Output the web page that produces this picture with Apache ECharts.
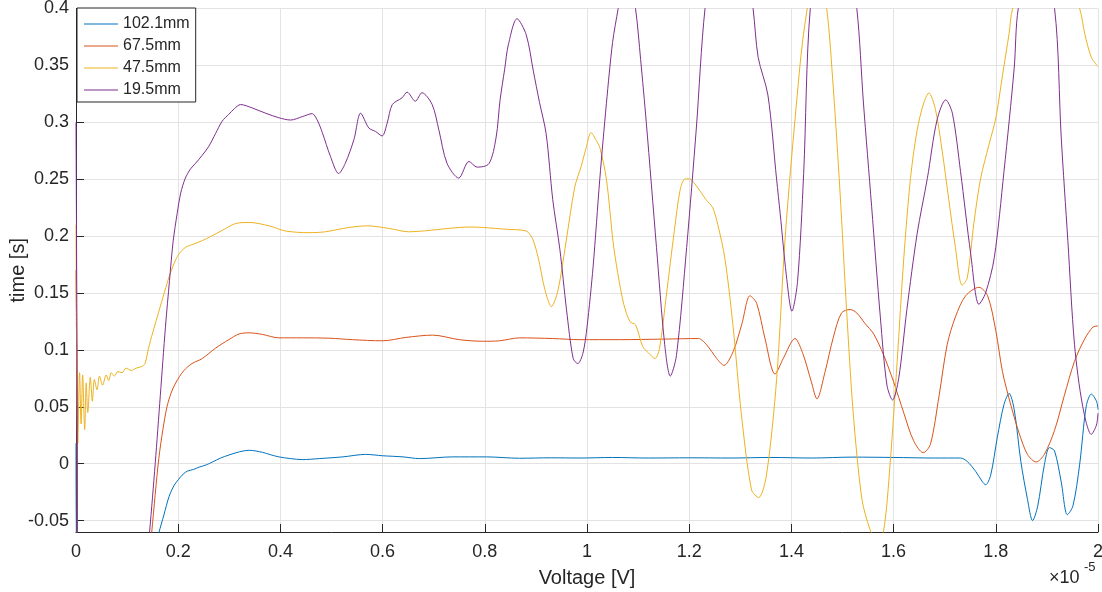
<!DOCTYPE html>
<html>
<head>
<meta charset="utf-8">
<script src="https://cdn.jsdelivr.net/npm/echarts@6/dist/echarts.min.js"></script>
<style>html,body{margin:0;padding:0;background:#fff}#c{width:1102px;height:592px}</style>
</head>
<body>
<div id="c"></div>
<script>
const seriesNames = ['102.1mm', '67.5mm', '47.5mm', '19.5mm'];
const seriesColors = ['#0072BD', '#D95319', '#EDB120', '#7E2F8E'];
const yTickValues = [-0.05, 0, 0.05, 0.1, 0.15, 0.2, 0.25, 0.3, 0.35, 0.4];

const s102 = [[0,0.018],[0.003,-0.1],[0.14,-0.1],[0.162,-0.061],[0.172,-0.045],[0.182,-0.029],[0.192,-0.019],[0.201,-0.0136],[0.21,-0.009],[0.218,-0.0065],[0.23,-0.005],[0.241,-0.003],[0.255,-0.001],[0.267,0.0015],[0.283,0.005],[0.299,0.0076],[0.32,0.0105],[0.339,0.0118],[0.365,0.01],[0.38,0.008],[0.397,0.006],[0.42,0.0045],[0.443,0.0036],[0.476,0.0045],[0.522,0.006],[0.567,0.0082],[0.6,0.007],[0.64,0.006],[0.672,0.0045],[0.737,0.006],[0.803,0.006],[0.868,0.0048],[0.93,0.0052],[0.986,0.005],[1.05,0.0055],[1.12,0.005],[1.2,0.0052],[1.28,0.005],[1.36,0.0055],[1.44,0.005],[1.52,0.0058],[1.6,0.0055],[1.68,0.005],[1.731,0.005],[1.744,0.002],[1.761,-0.007],[1.774,-0.016],[1.78,-0.0185],[1.79,-0.01],[1.803,0.0233],[1.816,0.052],[1.826,0.0618],[1.836,0.0476],[1.849,0.002],[1.862,-0.0312],[1.872,-0.05],[1.882,-0.0373],[1.895,-0.001],[1.905,0.0142],[1.915,0.0112],[1.928,-0.016],[1.94,-0.0448],[1.951,-0.037],[1.964,-0.001],[1.977,0.0506],[1.987,0.0612],[1.997,0.055],[2.0,0.0476]];

const s67 = [[0,0.17],[0.002,0.05],[0.004,-0.12],[0.135,-0.12],[0.148,-0.061],[0.155,-0.027],[0.162,0.0045],[0.17,0.03],[0.178,0.05],[0.186,0.062],[0.195,0.071],[0.211,0.0818],[0.227,0.088],[0.247,0.0924],[0.273,0.1015],[0.299,0.109],[0.319,0.114],[0.339,0.115],[0.365,0.1136],[0.397,0.1106],[0.443,0.1106],[0.495,0.1103],[0.541,0.109],[0.6,0.108],[0.646,0.111],[0.698,0.113],[0.75,0.109],[0.796,0.1076],[0.829,0.108],[0.868,0.1106],[0.933,0.11],[0.986,0.109],[1.064,0.109],[1.15,0.1095],[1.218,0.11],[1.234,0.1045],[1.254,0.0924],[1.268,0.0864],[1.286,0.0985],[1.303,0.1227],[1.319,0.1476],[1.332,0.141],[1.348,0.1106],[1.368,0.0788],[1.384,0.0924],[1.407,0.11],[1.423,0.096],[1.439,0.072],[1.45,0.057],[1.466,0.081],[1.482,0.111],[1.498,0.1324],[1.515,0.1355],[1.528,0.1324],[1.544,0.1233],[1.561,0.114],[1.58,0.096],[1.6,0.072],[1.62,0.0445],[1.639,0.0203],[1.658,0.0097],[1.672,0.017],[1.689,0.0597],[1.705,0.105],[1.721,0.129],[1.741,0.1476],[1.767,0.155],[1.784,0.1476],[1.8,0.117],[1.813,0.081],[1.83,0.0506],[1.846,0.0264],[1.862,0.0082],[1.879,0.0015],[1.895,0.0082],[1.915,0.0294],[1.934,0.0597],[1.954,0.09],[1.974,0.1097],[1.99,0.12],[2.0,0.121]];

const s47 = [[0,0.21],[0.0015,0.1],[0.0035,0.018],[0.007,0.08],[0.01,0.035],[0.013,0.078],[0.017,0.03],[0.02,0.071],[0.023,0.045],[0.028,0.076],[0.032,0.055],[0.036,0.074],[0.041,0.065],[0.046,0.077],[0.052,0.069],[0.059,0.078],[0.064,0.073],[0.069,0.08],[0.075,0.077],[0.082,0.081],[0.09,0.08],[0.098,0.084],[0.108,0.082],[0.118,0.084],[0.129,0.0855],[0.135,0.088],[0.142,0.1015],[0.15,0.115],[0.159,0.129],[0.17,0.146],[0.182,0.164],[0.192,0.176],[0.201,0.184],[0.214,0.19],[0.23,0.193],[0.247,0.196],[0.265,0.2],[0.286,0.205],[0.312,0.211],[0.339,0.212],[0.378,0.209],[0.41,0.2045],[0.456,0.203],[0.488,0.2038],[0.534,0.2076],[0.57,0.209],[0.612,0.2068],[0.651,0.2038],[0.684,0.2047],[0.73,0.2068],[0.769,0.208],[0.796,0.2076],[0.842,0.206],[0.881,0.2045],[0.894,0.197],[0.905,0.18],[0.914,0.16],[0.922,0.146],[0.93,0.138],[0.943,0.152],[0.959,0.195],[0.976,0.243],[0.989,0.262],[0.998,0.277],[1.008,0.291],[1.018,0.284],[1.025,0.278],[1.038,0.25],[1.051,0.195],[1.06,0.168],[1.072,0.14],[1.084,0.125],[1.095,0.122],[1.109,0.103],[1.12,0.0975],[1.133,0.0924],[1.142,0.1015],[1.155,0.147],[1.171,0.205],[1.182,0.24],[1.191,0.25],[1.2,0.2503],[1.214,0.244],[1.233,0.232],[1.246,0.225],[1.256,0.21],[1.27,0.18],[1.286,0.12],[1.302,0.044],[1.322,-0.023],[1.336,-0.0297],[1.351,-0.0106],[1.371,0.074],[1.388,0.2],[1.41,0.317],[1.426,0.385],[1.451,0.44],[1.469,0.4],[1.482,0.33],[1.495,0.24],[1.508,0.135],[1.521,0.0445],[1.538,-0.031],[1.554,-0.058],[1.567,-0.068],[1.58,-0.06],[1.593,-0.001],[1.607,0.09],[1.62,0.181],[1.633,0.2506],[1.646,0.293],[1.659,0.317],[1.669,0.3258],[1.682,0.311],[1.695,0.275],[1.708,0.232],[1.721,0.19],[1.734,0.157],[1.744,0.163],[1.757,0.211],[1.77,0.25],[1.787,0.281],[1.8,0.3036],[1.813,0.341],[1.826,0.378],[1.833,0.4],[1.895,0.48],[1.964,0.4],[1.974,0.378],[1.987,0.357],[2.0,0.349]];

const s19 = [[0,0.3],[0.002,0.1],[0.004,-0.13],[0.13,-0.13],[0.144,-0.06],[0.155,0.0],[0.165,0.06],[0.175,0.12],[0.183,0.161],[0.19,0.195],[0.198,0.22],[0.205,0.238],[0.214,0.251],[0.224,0.259],[0.234,0.264],[0.247,0.271],[0.26,0.279],[0.273,0.29],[0.286,0.301],[0.299,0.307],[0.31,0.312],[0.322,0.3156],[0.345,0.3126],[0.371,0.308],[0.397,0.304],[0.42,0.302],[0.443,0.305],[0.462,0.3076],[0.472,0.302],[0.482,0.291],[0.498,0.27],[0.514,0.255],[0.527,0.264],[0.544,0.285],[0.557,0.308],[0.573,0.295],[0.586,0.292],[0.599,0.288],[0.609,0.2994],[0.619,0.3156],[0.638,0.3215],[0.648,0.3265],[0.664,0.3185],[0.677,0.326],[0.697,0.3156],[0.71,0.2935],[0.726,0.264],[0.749,0.251],[0.769,0.2656],[0.785,0.2606],[0.808,0.2636],[0.822,0.2864],[0.83,0.32],[0.839,0.347],[0.846,0.368],[0.863,0.391],[0.881,0.377],[0.895,0.345],[0.907,0.3176],[0.92,0.29],[0.933,0.232],[0.947,0.188],[0.96,0.135],[0.973,0.0924],[0.982,0.088],[0.992,0.097],[1.0,0.12],[1.012,0.1735],[1.025,0.25],[1.038,0.3167],[1.05,0.37],[1.061,0.4],[1.078,0.445],[1.095,0.4],[1.105,0.355],[1.116,0.3],[1.136,0.19],[1.152,0.105],[1.163,0.077],[1.175,0.095],[1.195,0.19],[1.214,0.295],[1.231,0.4],[1.278,0.56],[1.325,0.4],[1.335,0.357],[1.354,0.324],[1.371,0.25],[1.378,0.22],[1.39,0.166],[1.401,0.134],[1.412,0.16],[1.424,0.255],[1.437,0.4],[1.482,0.56],[1.528,0.4],[1.541,0.317],[1.557,0.226],[1.574,0.129],[1.587,0.069],[1.598,0.056],[1.61,0.075],[1.626,0.1355],[1.646,0.202],[1.666,0.2506],[1.685,0.302],[1.702,0.3197],[1.715,0.308],[1.731,0.2567],[1.751,0.184],[1.767,0.14],[1.78,0.15],[1.797,0.181],[1.816,0.2567],[1.836,0.3476],[1.844,0.4],[1.88,0.47],[1.915,0.4],[1.928,0.287],[1.941,0.196],[1.954,0.105],[1.97,0.0506],[1.987,0.0258],[1.997,0.034],[2.0,0.0445]];

const seriesData = [s102, s67, s47, s19];
const FONT = "'Liberation Sans', Arial, Helvetica, sans-serif";
const TXT = '#262626';

const chart = echarts.init(document.getElementById('c'), null, {renderer: 'canvas'});
chart.setOption({
  animation: false,
  backgroundColor: '#ffffff',
  textStyle: {fontFamily: FONT},
  grid: {left: 76, right: 4, top: 8.5, bottom: 60, containLabel: false, outerBoundsMode: 'none'},
  legend: {
    orient: 'vertical', left: 77, top: 8,
    data: seriesNames,
    icon: 'rect',
    backgroundColor: '#ffffff', borderColor: TXT, borderWidth: 1,
    padding: [8, 6, 4, 7], itemGap: 6, itemWidth: 34, itemHeight: 1.2,
    textStyle: {fontSize: 16, color: TXT, fontFamily: FONT, lineHeight: 16}
  },
  xAxis: {
    type: 'value', min: 0, max: 2, interval: 0.2,
    name: 'Voltage [V]', nameLocation: 'middle', nameGap: 36, nameMoveOverlap: false,
    nameTextStyle: {fontSize: 20, color: TXT, fontFamily: FONT},
    axisLine: {show: true, onZero: false, lineStyle: {color: TXT, width: 1}},
    axisTick: {show: true, inside: true, length: 8, lineStyle: {color: TXT}},
    axisLabel: {fontSize: 18, color: TXT, margin: 11, fontFamily: FONT,
      formatter: v => String(+v.toFixed(1))},
    splitLine: {show: true, lineStyle: {color: '#e3e3e3', width: 1}}
  },
  yAxis: {
    type: 'value', min: -0.06, max: 0.4,
    name: 'time [s]', nameLocation: 'middle', nameGap: 48, nameRotate: 90, nameMoveOverlap: false,
    nameTextStyle: {fontSize: 20, color: TXT, fontFamily: FONT},
    axisLine: {show: true, onZero: false, lineStyle: {color: TXT, width: 1}},
    axisTick: {show: true, inside: true, length: 8, lineStyle: {color: TXT}, customValues: yTickValues},
    axisLabel: {fontSize: 18, color: TXT, margin: 7, fontFamily: FONT, customValues: yTickValues,
      formatter: v => String(+v.toFixed(2))},
    splitLine: {show: true, lineStyle: {color: '#e3e3e3', width: 1}}
  },
  graphic: [
    {type: 'text', left: 1049, top: 569, style: {text: '×10', fontSize: 18, fill: TXT, fontFamily: FONT}},
    {type: 'text', left: 1084, top: 561, style: {text: '-5', fontSize: 13, fill: TXT, fontFamily: FONT}}
  ],
  series: seriesNames.map((n, i) => ({
    name: n, type: 'line', data: seriesData[i], symbol: 'none', smooth: 0.3, clip: true,
    lineStyle: {color: seriesColors[i], width: 1}, itemStyle: {color: seriesColors[i]}
  }))
});
</script>
</body>
</html>
